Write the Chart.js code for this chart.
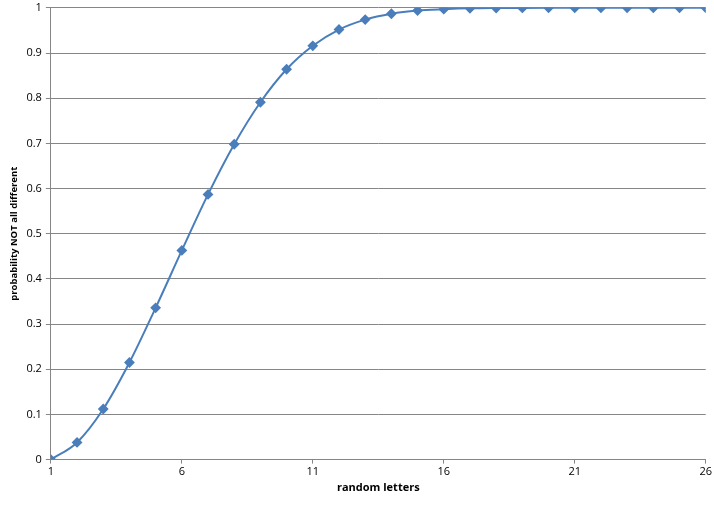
<!DOCTYPE html>
<html><head><meta charset="utf-8">
<script src="https://cdn.jsdelivr.net/npm/chart.js@4/dist/chart.umd.min.js"></script>
<style>html,body{margin:0;padding:0;background:#fff}#w{width:714px;height:506px}</style>
</head><body><div id="w"><canvas id="c"></canvas></div>
<script>
const letters = [1,2,3,4,5,6,7,8,9,10,11,12,13,14,15,16,17,18,19,20,21,22,23,24,25,26];
const probNotAllDifferent = [0,0.038,0.112,0.215,0.336,0.463,0.587,0.698,0.791,0.864,0.916,0.952,0.974,0.987,0.994,0.997,0.999,0.9997,0.9999,1,1,1,1,1,1,1];
const xTitle = 'random letters';
const yTitle = 'probability NOT all different';
const F = "'Open Sans', 'Liberation Sans', sans-serif";
const grey = '#868686';
new Chart(document.getElementById('c'), {
  type: 'line',
  data: {
    datasets: [{
      data: letters.map((x,i)=>({x:x, y:probNotAllDifferent[i]})),
      borderColor: '#4a7ebb',
      backgroundColor: '#4a7ebb',
      borderWidth: 2,
      pointStyle: 'rectRot',
      pointRadius: 4,
      pointHoverRadius: 4,
      tension: 0.4,
      cubicInterpolationMode: 'monotone',
      fill: false
    }]
  },
  options: {
    responsive: true, maintainAspectRatio: false, animation: false,
    layout: {padding: {top: 0, right: 4, left: 9, bottom: 12}},
    plugins: {legend: {display: false}, tooltip: {enabled: false}},
    scales: {
      x: {
        type: 'linear', min: 1, max: 26,
        ticks: {stepSize: 5, color: '#000', font: {family: F, size: 11}, padding: 2},
        grid: {drawOnChartArea: false, drawTicks: true, tickLength: 4, color: grey},
        border: {color: grey, width: 1},
        title: {display: true, text: xTitle, color: '#000', font: {family: F, size: 11, weight: 'bold'}, padding: {top: 0, bottom: 0}}
      },
      y: {
        min: 0, max: 1,
        ticks: {stepSize: 0.1, color: '#000', font: {family: F, size: 11, lineHeight: 0.7}, padding: 4,
          callback: v => String(Math.round(v*10)/10)},
        grid: {color: grey, tickLength: 5},
        border: {color: grey, width: 1},
        title: {display: true, text: yTitle, color: '#000', font: {family: F, size: 9.5, weight: 'bold'}, padding: {top: 0, bottom: 2}}
      }
    }
  }
});
</script></body></html>
